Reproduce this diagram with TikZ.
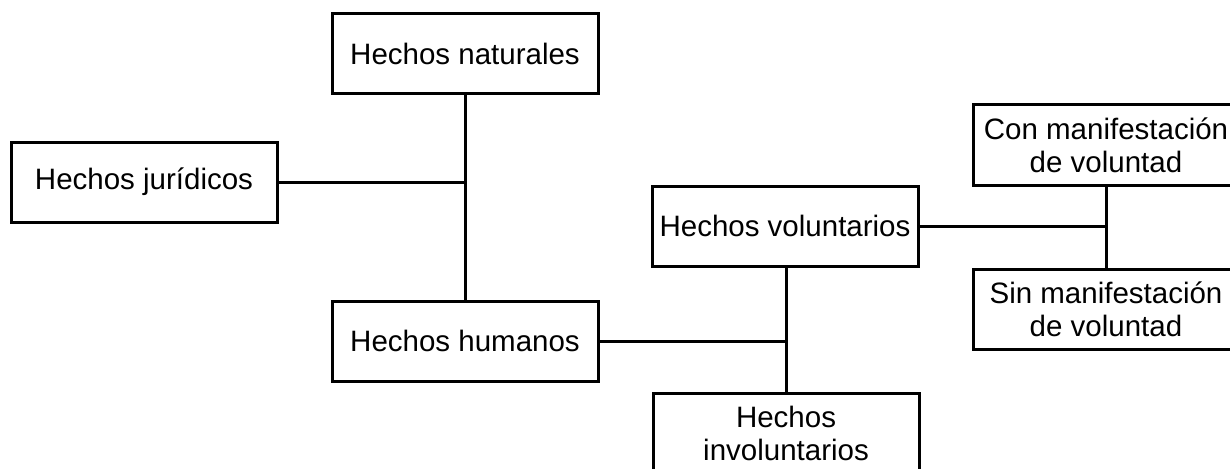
\documentclass[tikz,border=0pt]{standalone}
\usepackage{fontspec}
\setmainfont{Liberation Sans}
\begin{document}
\begin{tikzpicture}[x=1pt,y=-1pt,
  box/.style={draw=black,line width=3pt,fill=white,minimum width=266pt,minimum height=80pt,
    inner sep=0pt,align=center,font=\fontsize{29.5}{33}\selectfont},
  link/.style={draw=black,line width=3pt}]
  \clip (0,0) rectangle (1230,468);
  \fill[white] (0,0) rectangle (1230,468);

  % nodes
  \node[box] (nat) at (465,54)   {Hechos naturales};
  \node[box] (jur) at (144,182)  {Hechos jurídicos};
  \node[box] (hum) at (465,341)  {Hechos humanos};
  \node[box] (vol) at (785,226)  {Hechos voluntarios};
  \node[box] (inv) at (786,433)  {Hechos\\involuntarios};
  \node[box] (con) at (1106,145) {Con manifestación\\de voluntad};
  \node[box] (sin) at (1106,309) {Sin manifestación\\de voluntad};

  % junction points
  \coordinate (j1) at (465,182);
  \coordinate (j2) at (786,341);
  \coordinate (j3) at (1106,226);

  % connectors
  \draw[link] (nat.south) -- (hum.north);
  \draw[link] (jur.east) -- (j1);
  \draw[link] (vol.south -| j2) -- (inv.north -| j2);
  \draw[link] (hum.east) -- (j2);
  \draw[link] (con.south) -- (sin.north);
  \draw[link] (vol.east) -- (j3);
\end{tikzpicture}
\end{document}
